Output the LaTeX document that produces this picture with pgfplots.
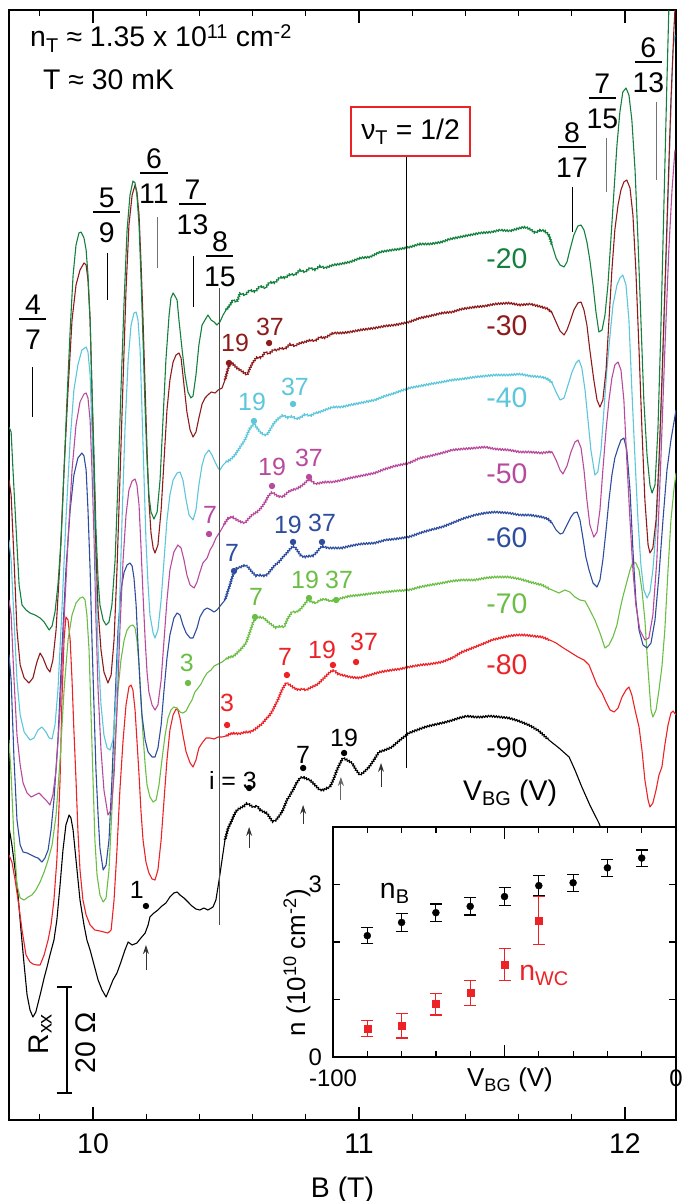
\documentclass[border=0pt]{standalone}
\usepackage{fontspec}
\setmainfont{Liberation Sans}
\usepackage{pgfplots}
\usepackage{pgfplotstable}
\pgfplotsset{compat=1.18}
\usetikzlibrary{arrows.meta,decorations.pathmorphing}
\definecolor{cgA}{HTML}{13803E}
\definecolor{crB}{HTML}{8E1B1B}
\definecolor{ccC}{HTML}{5CC6DA}
\definecolor{cmD}{HTML}{B84A9E}
\definecolor{cbE}{HTML}{2E4D9E}
\definecolor{cgF}{HTML}{6BBE45}
\definecolor{crG}{HTML}{EC2227}
\newcommand{\fs}{\fontsize{28.5}{32}\selectfont}
\newcommand{\fd}{\fontsize{25}{28}\selectfont}
\newcommand{\fin}{\fontsize{26}{30}\selectfont}
\newcommand{\fit}{\fontsize{24}{28}\selectfont}

% Rxx traces: B (T) vs screen row of the trace (offset per gate voltage)
\pgfplotstableread{
B R
9.684 827
9.695 845
9.707 870
9.718 895
9.729 930
9.741 965
9.752 995
9.763 1010
9.774 1017
9.785 1012
9.801 995
9.816 978
9.827 967
9.838 955
9.853 940
9.864 920
9.876 885
9.887 850
9.898 825
9.910 815
9.917 818
9.925 830
9.936 860
9.951 900
9.966 925
9.977 940
9.989 950
10.004 965
10.019 980
10.034 990
10.049 997
10.060 990
10.075 980
10.090 973
10.105 962
10.120 950
10.132 942
10.147 945
10.165 943
10.180 938
10.196 933
10.207 925
10.214 917
10.229 913
10.244 910
10.259 906
10.274 903
10.289 897
10.304 893
10.316 892
10.327 895
10.342 898
10.357 902
10.372 906
10.387 909
10.402 910
10.417 908
10.432 910
10.451 907
10.462 900
10.474 880
10.485 860
10.496 840
10.508 828
10.519 822
10.530 815
10.541 810
10.553 808
10.568 806
10.579 803
10.590 805
10.602 807
10.617 806
10.628 810
10.643 812
10.654 813
10.665 818
10.677 822
10.688 820
10.703 815
10.714 810
10.729 800
10.741 795
10.752 790
10.763 784
10.778 778
10.790 777
10.805 779
10.816 780
10.827 783
10.838 786
10.853 790
10.868 790
10.880 788
10.891 787
10.906 778
10.917 770
10.929 763
10.940 758
10.955 760
10.974 763
10.989 770
11.004 775
11.019 772
11.038 767
11.056 760
11.075 752
11.098 750
11.124 747
11.154 740
11.188 733
11.218 730
11.248 727
11.278 725
11.312 723
11.342 721
11.376 718
11.406 716
11.436 717
11.462 717
11.492 716
11.530 717
11.564 718
11.601 721
11.639 725
11.677 731
11.714 740
11.752 748
11.790 757
11.812 770
11.838 787
11.868 805
11.902 823
11.925 838
11.951 855
}\tblNinety
\pgfplotstableread{
B R
9.684 855
9.695 862
9.707 880
9.718 900
9.733 930
9.748 955
9.763 962
9.774 964
9.789 965
9.801 965
9.816 955
9.831 940
9.842 925
9.853 900
9.864 860
9.876 780
9.883 700
9.891 640
9.898 617
9.906 620
9.914 640
9.921 680
9.928 730
9.936 780
9.943 830
9.951 870
9.962 900
9.974 915
9.989 925
10.007 930
10.026 931
10.041 932
10.056 933
10.068 930
10.079 900
10.090 850
10.101 790
10.113 740
10.124 705
10.135 687
10.143 685
10.150 690
10.158 710
10.165 740
10.173 775
10.180 810
10.188 840
10.199 862
10.210 873
10.222 879
10.233 880
10.244 870
10.256 840
10.267 800
10.278 760
10.289 730
10.301 715
10.312 709
10.319 710
10.327 718
10.338 735
10.350 752
10.365 763
10.376 767
10.387 760
10.398 748
10.410 743
10.425 738
10.440 738
10.455 739
10.470 737
10.485 737
10.500 736
10.515 734
10.530 733
10.545 734
10.560 733
10.575 732
10.590 732
10.605 730
10.620 727
10.635 724
10.650 719
10.665 715
10.680 708
10.695 700
10.710 690
10.726 683
10.741 685
10.756 688
10.771 690
10.786 689
10.801 690
10.816 688
10.831 686
10.846 684
10.861 680
10.876 676
10.891 672
10.906 670
10.921 674
10.936 675
10.966 677
11.000 678
11.041 675
11.079 672
11.124 670
11.154 669
11.188 667
11.229 665
11.267 664
11.312 662
11.350 658
11.387 652
11.436 647
11.474 643
11.500 640
11.530 638
11.564 636
11.594 635
11.624 635
11.654 636
11.688 637
11.718 640
11.741 643
11.763 647
11.793 652
11.823 657
11.846 660
11.865 665
11.880 675
11.895 685
11.914 693
11.929 702
11.944 710
11.959 712
11.974 708
11.989 697
12.004 690
12.015 687
12.026 695
12.038 710
12.053 727
12.064 750
12.075 780
12.087 800
12.094 807
12.105 803
12.117 790
12.128 775
12.139 767
12.150 745
12.162 725
12.173 713
12.181 711
12.192 715
}\tblEighty
\pgfplotstableread{
B R
9.684 740
9.692 775
9.703 840
9.714 885
9.726 898
9.741 900
9.756 897
9.770 895
9.785 890
9.801 882
9.816 872
9.831 860
9.846 845
9.861 815
9.876 760
9.891 690
9.906 640
9.921 615
9.936 603
9.951 598
9.962 597
9.970 600
9.977 615
9.985 650
9.992 710
10.000 780
10.007 840
10.015 875
10.026 895
10.038 902
10.049 898
10.060 870
10.071 810
10.083 740
10.094 690
10.105 660
10.117 640
10.128 630
10.139 626
10.150 625
10.158 628
10.165 640
10.173 665
10.180 700
10.188 735
10.196 765
10.203 785
10.214 797
10.226 802
10.237 800
10.248 785
10.259 760
10.271 735
10.282 718
10.293 710
10.304 707
10.316 708
10.327 712
10.338 713
10.350 711
10.361 705
10.372 700
10.383 692
10.395 688
10.406 684
10.417 678
10.429 673
10.444 670
10.455 666
10.470 664
10.485 662
10.500 659
10.515 657
10.530 656
10.545 652
10.560 648
10.575 643
10.590 632
10.602 622
10.613 618
10.628 617
10.643 618
10.658 622
10.673 625
10.688 628
10.703 626
10.718 627
10.733 618
10.748 612
10.763 612
10.778 610
10.793 605
10.808 600
10.823 602
10.838 603
10.853 600
10.872 599
10.891 601
10.914 600
10.936 598
10.966 596
11.004 595
11.060 593
11.098 592
11.135 591
11.188 590
11.229 587
11.267 585
11.312 583
11.350 581
11.387 580
11.436 580
11.474 578
11.511 577
11.564 577
11.605 579
11.643 582
11.688 585
11.718 589
11.752 593
11.774 590
11.793 592
11.812 597
11.831 600
11.850 601
11.868 610
11.887 620
11.906 633
11.925 648
11.940 645
11.955 637
11.970 625
11.981 610
11.992 597
12.007 582
12.019 570
12.030 562
12.041 563
12.053 570
12.064 590
12.075 620
12.087 670
12.098 710
12.105 717
12.117 710
12.128 690
12.139 667
12.150 630
12.162 570
12.173 520
12.184 490
12.192 473
}\tblSeventy
\pgfplotstableread{
B R
9.684 655
9.692 680
9.703 760
9.714 820
9.726 845
9.737 852
9.752 853
9.767 855
9.782 857
9.793 858
9.808 862
9.819 858
9.831 850
9.842 830
9.853 800
9.868 740
9.883 650
9.898 570
9.914 510
9.928 475
9.943 458
9.958 453
9.966 456
9.974 470
9.981 510
9.989 570
9.996 640
10.004 710
10.011 770
10.019 815
10.026 848
10.038 870
10.049 865
10.060 840
10.071 780
10.083 700
10.094 630
10.105 590
10.117 572
10.128 565
10.139 563
10.147 566
10.154 578
10.162 605
10.169 645
10.177 685
10.184 715
10.196 740
10.207 752
10.222 757
10.233 757
10.244 748
10.256 725
10.267 690
10.278 658
10.289 635
10.304 618
10.316 613
10.327 615
10.338 625
10.350 633
10.365 638
10.376 638
10.391 628
10.402 617
10.417 610
10.429 608
10.444 610
10.455 612
10.466 610
10.481 605
10.496 600
10.511 588
10.526 575
10.541 568
10.556 567
10.571 565
10.583 567
10.598 572
10.613 576
10.628 575
10.643 576
10.654 575
10.669 570
10.684 565
10.699 562
10.714 557
10.729 553
10.744 548
10.756 546
10.767 550
10.782 556
10.797 557
10.812 556
10.827 556
10.842 552
10.853 548
10.865 546
10.880 548
10.902 548
10.936 548
10.966 546
11.004 544
11.060 543
11.098 540
11.135 539
11.188 537
11.229 533
11.267 530
11.312 527
11.350 523
11.387 519
11.436 515
11.474 513
11.511 512
11.564 513
11.605 515
11.643 515
11.688 517
11.711 519
11.726 523
11.741 530
11.756 534
11.767 533
11.782 525
11.797 517
11.808 513
11.820 512
11.831 520
11.842 538
11.853 557
11.865 570
11.880 583
11.895 587
11.906 580
11.917 560
11.929 530
11.940 500
11.951 475
11.962 458
11.974 448
11.985 440
11.996 438
12.007 450
12.019 490
12.030 550
12.041 600
12.053 630
12.068 645
12.083 648
12.098 643
12.113 620
12.128 575
12.143 520
12.158 470
12.173 440
12.192 410
}\tblSixty
\pgfplotstableread{
B R
9.684 600
9.692 615
9.703 680
9.714 735
9.726 765
9.737 783
9.752 793
9.767 797
9.782 795
9.797 793
9.808 796
9.823 800
9.838 805
9.849 795
9.861 770
9.876 710
9.891 620
9.906 540
9.921 470
9.936 425
9.951 402
9.966 394
9.974 393
9.981 398
9.989 420
9.996 470
10.004 540
10.011 620
10.019 690
10.030 750
10.041 790
10.056 815
10.068 810
10.079 775
10.090 710
10.101 630
10.113 560
10.124 515
10.135 490
10.147 481
10.158 479
10.165 485
10.173 505
10.180 545
10.188 595
10.196 640
10.203 672
10.210 692
10.222 705
10.233 710
10.244 705
10.256 680
10.267 640
10.278 600
10.289 570
10.304 552
10.319 545
10.331 548
10.342 560
10.353 575
10.365 585
10.380 588
10.391 582
10.402 572
10.413 563
10.429 558
10.440 550
10.451 545
10.462 538
10.477 532
10.492 525
10.508 518
10.526 517
10.541 520
10.556 522
10.571 523
10.587 518
10.602 514
10.617 512
10.632 508
10.647 502
10.662 495
10.673 492
10.688 495
10.703 497
10.718 496
10.733 492
10.748 490
10.763 489
10.778 487
10.793 484
10.808 480
10.820 480
10.835 484
10.853 483
10.872 482
10.902 482
10.936 480
10.966 478
11.004 476
11.060 473
11.098 469
11.135 466
11.188 463
11.229 458
11.267 456
11.312 453
11.350 450
11.387 449
11.436 448
11.474 447
11.511 449
11.564 450
11.605 452
11.643 452
11.688 453
11.711 452
11.726 452
11.741 460
11.756 470
11.767 474
11.782 466
11.797 452
11.812 442
11.823 440
11.835 448
11.846 470
11.857 500
11.868 525
11.883 537
11.895 532
11.906 510
11.917 470
11.929 430
11.940 400
11.951 378
11.962 365
11.974 362
11.985 370
11.996 400
12.007 460
12.019 520
12.030 570
12.041 605
12.056 630
12.075 640
12.090 638
12.105 615
12.120 560
12.135 460
12.150 350
12.165 250
12.177 190
12.188 150
}\tblFifty
\pgfplotstableread{
B R
9.684 540
9.692 560
9.703 620
9.714 680
9.726 715
9.741 732
9.763 740
9.778 738
9.793 730
9.808 727
9.823 732
9.835 738
9.846 739
9.857 725
9.868 690
9.883 610
9.898 520
9.914 440
9.928 390
9.943 365
9.958 350
9.974 347
9.981 352
9.989 375
9.996 430
10.004 500
10.011 580
10.019 650
10.030 705
10.041 735
10.053 748
10.064 750
10.075 740
10.086 700
10.098 620
10.109 520
10.120 430
10.132 360
10.143 325
10.154 313
10.162 312
10.169 320
10.177 350
10.184 410
10.192 480
10.199 540
10.207 585
10.214 615
10.226 633
10.233 638
10.244 630
10.256 600
10.267 560
10.278 520
10.289 495
10.301 480
10.316 473
10.327 472
10.338 480
10.350 500
10.361 515
10.376 520
10.387 510
10.398 485
10.410 465
10.421 455
10.436 450
10.447 455
10.459 462
10.470 468
10.477 470
10.489 465
10.500 462
10.515 460
10.534 455
10.553 447
10.571 440
10.590 428
10.605 424
10.617 428
10.628 432
10.643 435
10.654 435
10.669 428
10.684 422
10.699 418
10.714 415
10.733 418
10.748 416
10.763 419
10.778 418
10.797 414
10.816 416
10.835 413
10.853 412
10.872 410
10.902 407
10.936 407
10.966 405
11.004 403
11.060 400
11.098 396
11.135 393
11.188 388
11.229 386
11.267 384
11.312 382
11.350 380
11.387 379
11.436 377
11.474 376
11.511 375
11.564 375
11.605 374
11.643 376
11.688 377
11.711 379
11.726 383
11.741 392
11.756 400
11.771 398
11.786 385
11.801 372
11.816 363
11.827 360
11.838 368
11.850 390
11.861 420
11.872 450
11.887 475
11.898 472
11.910 450
11.921 410
11.932 370
11.944 335
11.955 305
11.970 285
11.981 278
11.992 275
12.004 285
12.015 320
12.026 390
12.038 460
12.049 520
12.060 565
12.071 590
12.083 598
12.094 592
12.105 570
12.117 530
12.128 470
12.139 390
12.150 300
12.162 200
12.173 110
12.181 50
12.188 35
}\tblForty
\pgfplotstableread{
B R
9.684 480
9.692 495
9.703 560
9.714 630
9.726 665
9.741 678
9.759 683
9.774 678
9.789 662
9.801 653
9.812 658
9.827 668
9.838 672
9.849 660
9.861 630
9.876 560
9.891 470
9.906 390
9.921 320
9.936 285
9.951 270
9.966 263
9.974 265
9.981 280
9.989 320
9.996 390
10.004 470
10.011 550
10.019 610
10.030 650
10.041 672
10.056 683
10.068 675
10.079 640
10.090 570
10.101 480
10.113 380
10.124 290
10.135 225
10.147 195
10.158 185
10.165 192
10.173 215
10.180 260
10.188 320
10.196 390
10.203 450
10.210 500
10.218 533
10.226 548
10.233 553
10.244 545
10.256 510
10.267 460
10.278 410
10.289 380
10.301 362
10.312 355
10.323 353
10.331 358
10.342 385
10.353 412
10.365 430
10.376 437
10.387 432
10.398 418
10.410 404
10.421 398
10.432 395
10.444 392
10.459 393
10.470 390
10.485 388
10.496 380
10.508 368
10.519 362
10.530 365
10.541 368
10.553 370
10.564 372
10.579 375
10.590 368
10.602 362
10.617 357
10.632 358
10.647 352
10.662 354
10.677 350
10.692 350
10.707 348
10.722 349
10.741 344
10.759 346
10.778 343
10.797 342
10.816 340
10.835 341
10.853 337
10.872 338
10.902 333
10.936 333
10.966 332
11.004 330
11.060 328
11.098 326
11.135 325
11.188 322
11.229 318
11.267 316
11.312 313
11.350 312
11.387 309
11.436 307
11.474 306
11.511 304
11.564 303
11.605 305
11.643 304
11.688 307
11.711 309
11.726 313
11.741 322
11.756 331
11.771 335
11.782 330
11.793 322
11.808 310
11.823 303
11.835 302
11.846 310
11.857 325
11.868 350
11.883 380
11.895 400
11.906 407
11.917 400
11.929 370
11.940 320
11.951 270
11.962 230
11.974 205
11.985 190
11.996 182
12.007 180
12.019 188
12.030 215
12.041 270
12.053 350
12.064 430
12.075 500
12.087 545
12.094 553
12.105 548
12.117 520
12.128 460
12.139 380
12.150 290
12.162 190
12.173 100
12.184 30
12.188 10
}\tblThirty
\pgfplotstableread{
B R
9.684 427
9.692 432
9.699 470
9.711 530
9.722 585
9.733 605
9.748 610
9.763 613
9.782 615
9.801 618
9.816 622
9.835 630
9.846 626
9.857 612
9.868 585
9.880 540
9.891 470
9.902 400
9.914 330
9.925 275
9.936 245
9.947 233
9.955 232
9.966 238
9.974 250
9.981 275
9.989 320
9.996 390
10.004 460
10.011 530
10.019 580
10.026 605
10.038 620
10.049 625
10.060 622
10.071 605
10.083 560
10.094 480
10.105 390
10.117 300
10.128 230
10.139 195
10.150 181
10.158 183
10.165 195
10.173 225
10.180 275
10.188 340
10.196 410
10.203 460
10.210 495
10.218 512
10.229 519
10.241 512
10.252 480
10.263 420
10.274 360
10.286 315
10.293 298
10.301 293
10.308 296
10.316 300
10.323 320
10.335 350
10.346 375
10.357 392
10.368 398
10.376 396
10.387 375
10.398 345
10.410 325
10.421 320
10.432 315
10.444 320
10.455 322
10.466 325
10.477 322
10.489 315
10.500 310
10.515 305
10.526 300
10.541 302
10.553 293
10.571 295
10.590 290
10.609 292
10.628 286
10.647 288
10.665 282
10.684 283
10.703 277
10.722 278
10.741 274
10.759 275
10.778 270
10.797 272
10.816 268
10.835 270
10.853 266
10.872 268
10.902 265
10.929 264
10.966 262
11.004 258
11.041 257
11.079 252
11.124 250
11.154 249
11.192 247
11.229 244
11.267 244
11.312 242
11.342 239
11.380 237
11.417 235
11.455 233
11.500 232
11.530 230
11.568 231
11.605 228
11.624 227
11.643 229
11.662 233
11.681 230
11.699 231
11.714 235
11.726 245
11.741 258
11.756 265
11.771 267
11.782 262
11.793 250
11.808 235
11.823 226
11.835 225
11.846 230
11.857 242
11.868 260
11.880 285
11.891 312
11.902 332
11.914 330
11.925 315
11.936 285
11.947 240
11.959 190
11.970 145
11.981 112
11.992 92
12.004 88
12.015 95
12.026 120
12.038 170
12.049 240
12.060 320
12.071 400
12.083 455
12.094 485
12.102 493
12.113 485
12.124 430
12.135 330
12.147 200
12.158 80
12.165 10
}\tblTwenty

% one trace: smooth over the oscillations, measurement jitter over the flat middle
\newcommand{\trace}[2]{%
  \addplot[#2, restrict x to domain=9.6:10.53] table[x=B,y=R] {#1};
  \addplot[#2, noisy, restrict x to domain=10.49:11.73] table[x=B,y=R] {#1};
  \addplot[#2, restrict x to domain=11.70:12.3] table[x=B,y=R] {#1};
}

\begin{document}
\begin{tikzpicture}
\useasboundingbox (0,0) rectangle (684bp,1201bp);

% ===== main panel =====
\begin{axis}[
  at={(9bp,81bp)}, anchor=south west,
  width=667bp, height=1110bp, scale only axis,
  xmin=9.684, xmax=12.192, ymin=10, ymax=1120, y dir=reverse,
  ytick=\empty,
  xtick={10,11,12}, xticklabels={10,11,12},
  minor xtick={9.8,10.2,10.4,10.6,10.8,11.2,11.4,11.6,11.8},
  tick align=inside, major tick length=13bp, minor tick length=6bp,
  tick style={line width=1.2bp, black},
  axis line style={line width=1.6bp},
  xticklabel style={font=\fs, anchor=base, yshift=-33bp, inner sep=0pt},
  xlabel={B (T)},
  xlabel style={font=\fs, at={(axis description cs:0.5,0)}, anchor=base, yshift=-77bp, inner sep=0pt},
  unbounded coords=jump,
  every axis plot/.append style={line width=1.1bp, mark=none, line join=round},
  noisy/.style={decorate, decoration={zigzag, segment length=2.6bp, amplitude=1.0bp}},
]
\trace{\tblNinety}{black}
\trace{\tblEighty}{crG}
\trace{\tblSeventy}{cgF}
\trace{\tblSixty}{cbE}
\trace{\tblFifty}{cmD}
\trace{\tblForty}{ccC}
\trace{\tblThirty}{crB}
\trace{\tblTwenty}{cgA}

% marked features (index i) on each trace
\addplot[only marks, mark=*, mark size=2.6bp, crB] coordinates {(10.511,363) (10.662,343)};
\addplot[only marks, mark=*, mark size=2.6bp, ccC] coordinates {(10.605,421) (10.752,404)};
\addplot[only marks, mark=*, mark size=2.6bp, cmD] coordinates {(10.436,534) (10.673,486) (10.812,477)};
\addplot[only marks, mark=*, mark size=2.6bp, cbE] coordinates {(10.530,571) (10.752,542) (10.861,542)};
\addplot[only marks, mark=*, mark size=2.6bp, cgF] coordinates {(10.357,683) (10.609,617) (10.812,598) (10.914,600)};
\addplot[only marks, mark=*, mark size=2.6bp, crG] coordinates {(10.504,725) (10.729,675) (10.902,665) (10.989,662)};
\addplot[only marks, mark=*, mark size=2.6bp, black] coordinates {(10.199,906) (10.587,788) (10.790,768) (10.944,753)};

\node[font=\fd, text=crB] at (axis cs:10.534,343) {19};
\node[font=\fd, text=crB] at (axis cs:10.665,327) {37};
\node[font=\fd, text=ccC] at (axis cs:10.598,402) {19};
\node[font=\fd, text=ccC] at (axis cs:10.759,387) {37};
\node[font=\fd, text=cmD] at (axis cs:10.440,515) {7};
\node[font=\fd, text=cmD] at (axis cs:10.673,467) {19};
\node[font=\fd, text=cmD] at (axis cs:10.812,458) {37};
\node[font=\fd, text=cbE] at (axis cs:10.523,553) {7};
\node[font=\fd, text=cbE] at (axis cs:10.733,525) {19};
\node[font=\fd, text=cbE] at (axis cs:10.861,523) {37};
\node[font=\fd, text=cgF] at (axis cs:10.353,663) {3};
\node[font=\fd, text=cgF] at (axis cs:10.613,597) {7};
\node[font=\fd, text=cgF] at (axis cs:10.797,580) {19};
\node[font=\fd, text=cgF] at (axis cs:10.925,580) {37};
\node[font=\fd, text=crG] at (axis cs:10.504,703) {3};
\node[font=\fd, text=crG] at (axis cs:10.722,657) {7};
\node[font=\fd, text=crG] at (axis cs:10.861,650) {19};
\node[font=\fd, text=crG] at (axis cs:11.019,642) {37};
\node[font=\fd] at (axis cs:10.165,890) {1};
\node[font=\fd] at (axis cs:10.526,781) {i = 3};
\node[font=\fd] at (axis cs:10.790,755) {7};
\node[font=\fd] at (axis cs:10.944,738) {19};

\draw[-{Stealth[length=9bp,width=6bp]}, line width=0.9bp, black!80] (axis cs:10.199,970) -- (axis cs:10.199,945);
\draw[-{Stealth[length=9bp,width=6bp]}, line width=0.9bp, black!80] (axis cs:10.587,848) -- (axis cs:10.587,827);
\draw[-{Stealth[length=9bp,width=6bp]}, line width=0.9bp, black!80] (axis cs:10.790,824) -- (axis cs:10.790,805);
\draw[-{Stealth[length=9bp,width=6bp]}, line width=0.9bp, black!60] (axis cs:10.932,800) -- (axis cs:10.932,777);
\draw[-{Stealth[length=9bp,width=6bp]}, line width=0.9bp, black!80] (axis cs:11.083,787) -- (axis cs:11.083,763);

% gate voltage of each trace
\node[font=\fs, text=cgA] at (axis cs:11.556,259) {-20};
\node[font=\fs, text=crB] at (axis cs:11.556,326) {-30};
\node[font=\fs, text=ccC] at (axis cs:11.556,398) {-40};
\node[font=\fs, text=cmD] at (axis cs:11.556,474) {-50};
\node[font=\fs, text=cbE] at (axis cs:11.556,538) {-60};
\node[font=\fs, text=cgF] at (axis cs:11.556,604) {-70};
\node[font=\fs, text=crG] at (axis cs:11.556,665) {-80};
\node[font=\fs] at (axis cs:11.556,748) {-90};
\node[font=\fs, anchor=base] at (axis cs:11.568,800) {V\textsubscript{BG} (V)};

% fractional states
\node[font=\fs, inner sep=0pt] at (axis cs:9.774,305) {4};
\node[font=\fs, inner sep=0pt] at (axis cs:9.774,340) {7};
\draw[line width=1.3bp] (axis cs:9.723,319) -- (axis cs:9.825,319);
\draw[line width=1bp] (axis cs:9.774,367) -- (axis cs:9.774,417);
\node[font=\fs, inner sep=0pt] at (axis cs:10.052,198) {5};
\node[font=\fs, inner sep=0pt] at (axis cs:10.052,233) {9};
\draw[line width=1.3bp] (axis cs:10.001,212) -- (axis cs:10.103,212);
\draw[line width=1bp] (axis cs:10.053,253) -- (axis cs:10.053,300);
\node[font=\fs, inner sep=0pt] at (axis cs:10.229,159) {6};
\node[font=\fs, inner sep=0pt] at (axis cs:10.229,194) {11};
\draw[line width=1.3bp] (axis cs:10.178,173) -- (axis cs:10.280,173);
\draw[line width=1bp, black!55] (axis cs:10.241,217) -- (axis cs:10.241,268);
\node[font=\fs, inner sep=0pt] at (axis cs:10.374,190) {7};
\node[font=\fs, inner sep=0pt] at (axis cs:10.374,225) {13};
\draw[line width=1.3bp] (axis cs:10.323,204) -- (axis cs:10.425,204);
\draw[line width=1bp] (axis cs:10.376,256) -- (axis cs:10.376,307);
\node[font=\fs, inner sep=0pt] at (axis cs:10.477,242) {8};
\node[font=\fs, inner sep=0pt] at (axis cs:10.477,277) {15};
\draw[line width=1.3bp] (axis cs:10.426,256) -- (axis cs:10.528,256);
\draw[line width=0.9bp, black!70] (axis cs:10.477,288) -- (axis cs:10.477,925);
\node[font=\fs, inner sep=0pt] at (axis cs:11.801,133) {8};
\node[font=\fs, inner sep=0pt] at (axis cs:11.801,168) {17};
\draw[line width=1.3bp] (axis cs:11.750,147) -- (axis cs:11.852,147);
\draw[line width=1bp] (axis cs:11.801,187) -- (axis cs:11.801,232);
\node[font=\fs, inner sep=0pt] at (axis cs:11.915,84) {7};
\node[font=\fs, inner sep=0pt] at (axis cs:11.915,119) {15};
\draw[line width=1.3bp] (axis cs:11.864,98) -- (axis cs:11.966,98);
\draw[line width=1bp, black!55] (axis cs:11.929,138) -- (axis cs:11.929,192);
\node[font=\fs, inner sep=0pt] at (axis cs:12.088,48) {6};
\node[font=\fs, inner sep=0pt] at (axis cs:12.088,83) {13};
\draw[line width=1.3bp] (axis cs:12.037,62) -- (axis cs:12.139,62);
\draw[line width=1bp, black!55] (axis cs:12.117,102) -- (axis cs:12.117,180);

% nu_T = 1/2
\draw[line width=0.9bp] (axis cs:11.177,156) -- (axis cs:11.177,768);
\node[font=\fs, draw=crG, line width=1.5bp, fill=white, minimum width=119bp, minimum height=49bp, inner sep=0pt]
  at (axis cs:11.194,131.5) {ν\textsubscript{T} = 1/2};

% header
\node[font=\fs, anchor=base west, inner sep=0pt] at (axis cs:9.763,47)
  {n\textsubscript{T} ≈ 1.35 x 10\textsuperscript{11} cm\textsuperscript{-2}};
\node[font=\fs, anchor=base west, inner sep=0pt] at (axis cs:9.812,90) {T ≈ 30 mK};

% scale bar
\draw[line width=1.2bp] (axis cs:9.902,987) -- (axis cs:9.902,1093);
\draw[line width=1.2bp] (axis cs:9.864,987) -- (axis cs:9.921,987);
\draw[line width=1.2bp] (axis cs:9.864,1093) -- (axis cs:9.921,1093);
\node[font=\fs, rotate=90] at (axis cs:9.801,1034) {R\textsubscript{xx}};
\node[font=\fs, rotate=90] at (axis cs:9.974,1043) {20 Ω};
\end{axis}

% ===== inset =====
\begin{axis}[
  at={(333bp,144bp)}, anchor=south west,
  width=343bp, height=230bp, scale only axis,
  xmin=-100, xmax=0, ymin=0, ymax=4,
  axis background/.style={fill=white},
  axis line style={line width=1.6bp},
  xtick={-100,0}, xticklabels={-100,0},
  minor xtick={-90,-80,-70,-60,-40,-30,-20,-10},
  extra x ticks={-50}, extra x tick labels={},
  extra x tick style={major tick length=12bp},
  ytick={0,1,2,3}, yticklabels={0,,,3},
  tick align=inside, major tick length=7bp, minor tick length=6bp,
  tick style={line width=1.2bp, black},
  xticklabel style={font=\fit, anchor=base, yshift=-30bp, inner sep=0pt},
  yticklabel style={font=\fit, anchor=east, xshift=-11bp, inner sep=0pt},
  xlabel={V\textsubscript{BG} (V)},
  xlabel style={font=\fin, at={(axis description cs:0.516,0)}, anchor=base, yshift=-30bp, inner sep=0pt},
  ylabel={n (10\textsuperscript{10} cm\textsuperscript{-2})},
  ylabel style={font=\fin, at={(axis description cs:-0.0816,0.41)}, anchor=base, inner sep=0pt},
]
\addplot[only marks, mark=*, mark size=3.5bp, black,
  error bars/.cd, y dir=both, y explicit, error mark=-,
  error mark options={rotate=90, mark size=6bp, line width=1.1bp, black},
  error bar style={line width=1.1bp, black}]
  table[x=v, y=n, y error=e] {
v n e
-90 2.11 0.14
-80 2.34 0.15
-70 2.51 0.15
-60 2.62 0.15
-50 2.79 0.15
-40 2.98 0.17
-30 3.03 0.15
-20 3.29 0.15
-10 3.46 0.14
};
\addplot[only marks, mark=square*, mark size=3.5bp, crG,
  error bars/.cd, y dir=both, y explicit, error mark=-,
  error mark options={rotate=90, mark size=6bp, line width=1.1bp, crG},
  error bar style={line width=1.1bp, crG}]
  table[x=v, y=n, y error=e] {
v n e
-90 0.49 0.14
-80 0.54 0.21
-70 0.92 0.19
-60 1.11 0.22
-50 1.61 0.28
-40 2.37 0.42
};
\node[font=\fs] at (axis cs:-82,2.84) {n\textsubscript{B}};
\node[font=\fs, text=crG] at (axis cs:-38.5,1.42) {n\textsubscript{WC}};
\end{axis}
\end{tikzpicture}
\end{document}
